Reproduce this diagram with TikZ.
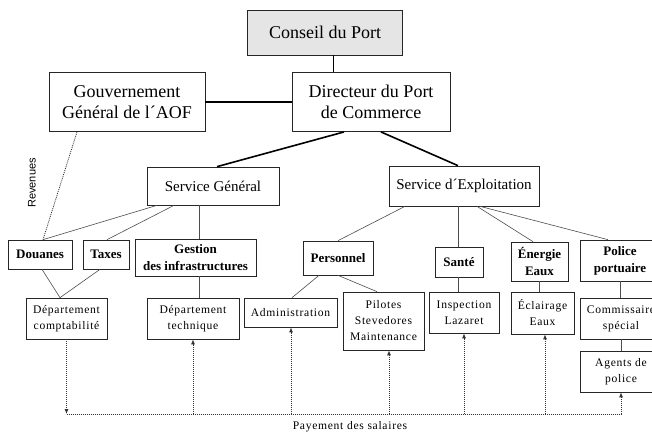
\documentclass[tikz,border=0pt]{standalone}
\usepackage{fontspec}
\setmainfont{Liberation Serif}
\newfontfamily\lowfont[LetterSpace=6]{Liberation Serif}
\newfontfamily\revfont{Liberation Sans}
\usetikzlibrary{arrows.meta}

\begin{document}
\begin{tikzpicture}[x=1pt,y=-1pt,
  box/.style={draw=black!85,line width=0.7pt,inner sep=0pt,align=center},
  lvla/.style={box,line width=0.9pt,font=\fontsize{18}{21}\selectfont},
  lvlb/.style={box,font=\fontsize{15}{18}\selectfont},
  lvlc/.style={box,font=\bfseries\fontsize{13}{17}\selectfont},
  lvld/.style={box,font=\lowfont\fontsize{11.6}{16}\selectfont},
  link/.style={draw=black!70,line width=0.6pt},
  heavy/.style={draw=black,line width=1.6pt},
  pay/.style={draw=black!80,line width=0.8pt,dash pattern=on 1pt off 1pt},
  tip/.style={-{Latex[length=5pt,width=4pt]}}]
\useasboundingbox (0,0) rectangle (652,433);

\node[lvla,fill=black!10,minimum width=155pt,minimum height=45pt] (conseil) at (325,32.5) {Conseil du Port};
\node[lvla,minimum width=156pt,minimum height=59pt] (gouv) at (127,102) {Gouvernement\\Général de l´AOF};
\node[lvla,minimum width=158pt,minimum height=59pt] (directeur) at (371,102) {Directeur du Port\\de Commerce};

\node[lvlb,minimum width=132pt,minimum height=38pt] (sgen) at (213,186) {Service Général};
\node[lvlb,minimum width=150pt,minimum height=40pt] (sexp) at (464,186) {Service d´Exploitation};

\node[lvlc,minimum width=64pt,minimum height=29pt] (douanes) at (40,254.5) {Douanes};
\node[lvlc,minimum width=46pt,minimum height=29pt] (taxes) at (106,254.5) {Taxes};
\node[lvlc,minimum width=121pt,minimum height=37pt] (gestion) at (195.5,257.5) {Gestion\\des infrastructures};
\node[lvlc,minimum width=70pt,minimum height=34pt] (personnel) at (338,258) {Personnel};
\node[lvlc,minimum width=48pt,minimum height=30pt] (sante) at (459,262) {Santé};
\node[lvlc,minimum width=57pt,minimum height=39pt] (energie) at (539.5,261.5) {Énergie\\Eaux};
\node[lvlc,minimum width=80pt,minimum height=41pt] (police) at (620,260.5) {Police\\portuaire};

\node[lvld,minimum width=81pt,minimum height=41pt] (depcompt) at (66.5,318.5) {Département\\comptabilité};
\node[lvld,minimum width=92pt,minimum height=41pt] (deptech) at (193,318.5) {Département\\technique};
\node[lvld,minimum width=93pt,minimum height=29pt] (admin) at (290.5,312.5) {Administration};
\node[lvld,minimum width=81pt,minimum height=58pt] (pilotes) at (383.5,321) {Pilotes\\Stevedores\\Maintenance};
\node[lvld,minimum width=70pt,minimum height=41pt] (inspection) at (464,312.5) {Inspection\\Lazaret};
\node[lvld,minimum width=63pt,minimum height=42pt] (eclairage) at (542.5,313) {Éclairage\\Eaux};
\node[lvld,minimum width=82pt,minimum height=41pt] (commissaire) at (621,318.5) {Commissaire\\spécial};
\node[lvld,minimum width=82pt,minimum height=41pt] (agents) at (621,371.5) {Agents de\\police};

\node[rotate=90,font=\revfont\fontsize{11}{13}\selectfont] (revenues) at (32,183) {Revenues};
\node[font=\lowfont\fontsize{11.6}{14}\selectfont] (payement) at (350,427) {Payement des salaires};

% vrh
\draw[line width=1pt] ([xshift=8pt]conseil.south) -- ([xshift=8pt]conseil.south |- directeur.north);
\draw[line width=1.2pt] (gouv.east) -- (directeur.west);
\draw[heavy] ([xshift=-27pt]directeur.south) -- ([xshift=4pt]sgen.north);
\draw[heavy] ([xshift=10pt]directeur.south) -- ([xshift=-6pt]sexp.north);

\draw[link] ([xshift=-56pt]sgen.south) -- ([xshift=3pt]douanes.north);
\draw[link] ([xshift=-39pt]sgen.south) -- ([xshift=1pt]taxes.north);
\draw[link] ([xshift=-14pt]sgen.south) -- ([xshift=-14pt]sgen.south |- gestion.north);
\draw[link] ([xshift=2pt]douanes.south) -- ([xshift=-6.5pt]depcompt.north);
\draw[link] ([xshift=-6pt]taxes.south) -- ([xshift=-6.5pt]depcompt.north);
\draw[link] ([xshift=3.5pt]gestion.south) -- ([xshift=3.5pt]gestion.south |- deptech.north);

\draw[link] ([xshift=-59pt]sexp.south) -- (personnel.north);
\draw[link] ([xshift=-6pt]sexp.south) -- ([xshift=-6pt]sexp.south |- sante.north);
\draw[link] ([xshift=13pt]sexp.south) -- ([xshift=-6.5pt]energie.north);
\draw[link] ([xshift=16pt]sexp.south) -- ([xshift=-12pt]police.north);
\draw[link] ([xshift=-19pt]personnel.south) -- ([xshift=1.5pt]admin.north);
\draw[link] (personnel.south) -- ([xshift=-6.5pt]pilotes.north);
\draw[link] ([xshift=-1pt]sante.south) -- ([xshift=-1pt]sante.south |- inspection.north);
\draw[link] (energie.south) -- (energie.south |- eclairage.north);
\draw[link] (police.south) -- (police.south |- commissaire.north);
\draw[link] (commissaire.south) -- (agents.north);

\draw[pay] ([xshift=-50pt]gouv.south) -- ([xshift=3pt]douanes.north);

% salaires
\coordinate (busl) at (66.5,414);
\coordinate (busr) at (621,414);
\draw[pay,tip] (depcompt.south) -- (busl);
\draw[pay] (busl) -- (busr);
\foreach \n/\dx in {deptech/0,admin/0.5,pilotes/5.5,inspection/0,eclairage/2.5,agents/0}
  \draw[pay,tip] ([xshift=\dx pt]\n.south |- busl) -- ([xshift=\dx pt]\n.south);
\end{tikzpicture}
\end{document}
